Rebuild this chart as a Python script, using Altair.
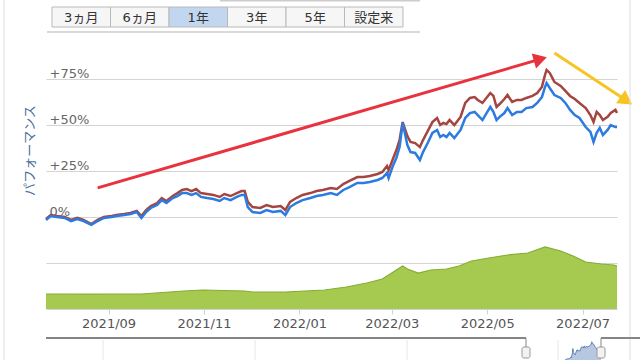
import altair as alt
import pandas as pd

# ---------------- data ----------------
dates = [
    "2021-07-23", "2021-07-26", "2021-07-30", "2021-08-04", "2021-08-08", "2021-08-12",
    "2021-08-16", "2021-08-21", "2021-08-25", "2021-08-29", "2021-09-03", "2021-09-06",
    "2021-09-11", "2021-09-15", "2021-09-19", "2021-09-22", "2021-09-25", "2021-09-28",
    "2021-10-02", "2021-10-05", "2021-10-08", "2021-10-12", "2021-10-15", "2021-10-18",
    "2021-10-21", "2021-10-24", "2021-10-27", "2021-10-30", "2021-11-03", "2021-11-07",
    "2021-11-11", "2021-11-14", "2021-11-18", "2021-11-22", "2021-11-25", "2021-11-27",
    "2021-11-29", "2021-12-02", "2021-12-07", "2021-12-11", "2021-12-15", "2021-12-20",
    "2021-12-23", "2021-12-26", "2021-12-30", "2022-01-03", "2022-01-08", "2022-01-12",
    "2022-01-16", "2022-01-21", "2022-01-25", "2022-01-29", "2022-02-02", "2022-02-07",
    "2022-02-11", "2022-02-15", "2022-02-20", "2022-02-23", "2022-02-26", "2022-02-27",
    "2022-03-02", "2022-03-04", "2022-03-06", "2022-03-08", "2022-03-11", "2022-03-13",
    "2022-03-16", "2022-03-19", "2022-03-21", "2022-03-24", "2022-03-27", "2022-03-30",
    "2022-04-01", "2022-04-03", "2022-04-05", "2022-04-07", "2022-04-10", "2022-04-14",
    "2022-04-17", "2022-04-20", "2022-04-23", "2022-04-25", "2022-04-28", "2022-05-03",
    "2022-05-05", "2022-05-07", "2022-05-09", "2022-05-12", "2022-05-14", "2022-05-17",
    "2022-05-20", "2022-05-23", "2022-05-26", "2022-05-30", "2022-06-02", "2022-06-05",
    "2022-06-07", "2022-06-08", "2022-06-10", "2022-06-13", "2022-06-17", "2022-06-20",
    "2022-06-23", "2022-06-26", "2022-06-29", "2022-07-03", "2022-07-06", "2022-07-08",
    "2022-07-10", "2022-07-12", "2022-07-14", "2022-07-17", "2022-07-19", "2022-07-22",
    "2022-07-23",
]
fund_pct = [
    -1.6, 0.5, 0.0, -0.5, -2.2, -1.1, -2.2, -4.3, -2.2, -0.5, 0.0, 0.5,
    1.1, 1.6, 2.7, -0.5, 2.7, 4.9, 6.5, 9.2, 7.6, 10.3, 11.4, 13.0,
    13.0, 12.0, 13.0, 10.9, 10.3, 9.8, 8.7, 10.3, 9.2, 10.9, 12.0, 12.0,
    5.4, 2.7, 2.2, 3.8, 2.7, 3.3, 1.1, 5.4, 7.6, 9.2, 10.3, 11.4,
    12.0, 13.0, 12.0, 14.7, 16.3, 18.5, 18.5, 19.0, 20.1, 21.2, 23.9, 21.2,
    28.3, 32.1, 38.0, 51.1, 39.1, 35.3, 34.8, 31.0, 35.3, 40.2, 45.7, 47.3,
    43.5, 44.6, 43.5, 45.7, 42.9, 47.3, 53.8, 56.5, 57.1, 55.4, 52.7, 59.8,
    57.1, 52.7, 54.4, 56.5, 59.2, 55.4, 57.1, 57.1, 59.2, 59.8, 62.0, 65.2,
    70.7, 72.8, 70.1, 66.3, 64.7, 62.0, 58.2, 55.4, 53.8, 48.9, 46.2, 40.8,
    45.7, 48.4, 44.6, 47.3, 50.0, 48.9, 48.9,
]
reinvest_pct = [
    -1.1, 1.1, 0.5, 0.0, -1.6, -0.5, -1.6, -3.8, -1.6, 0.0, 0.5, 1.1,
    1.6, 2.2, 3.3, 0.5, 3.8, 6.0, 7.6, 10.3, 8.7, 11.4, 13.0, 14.7,
    15.2, 14.1, 15.2, 13.0, 12.5, 12.0, 10.9, 12.5, 11.4, 13.0, 14.1, 14.1,
    8.2, 5.4, 4.9, 6.5, 5.4, 6.0, 3.8, 8.2, 10.3, 12.0, 13.0, 14.1,
    14.7, 15.8, 15.2, 17.9, 19.6, 21.7, 21.7, 22.3, 23.4, 24.5, 27.7, 25.5,
    32.1, 36.4, 41.8, 51.6, 44.0, 40.8, 40.2, 38.0, 41.8, 46.7, 51.6, 53.8,
    50.0, 51.1, 50.5, 52.7, 50.0, 54.4, 62.0, 64.7, 65.2, 63.6, 62.0, 67.4,
    65.8, 59.8, 61.4, 64.1, 66.3, 62.5, 63.6, 63.6, 64.7, 65.8, 67.4, 70.7,
    77.2, 79.9, 78.3, 73.4, 71.2, 68.5, 65.8, 64.1, 62.0, 59.2, 55.4, 51.6,
    57.1, 55.4, 52.7, 54.4, 56.5, 58.2, 56.5,
]

asset_dates = [
    "2021-07-23", "2021-08-20", "2021-09-22", "2021-10-19", "2021-10-31", "2021-11-27",
    "2021-12-02", "2021-12-23", "2022-01-17", "2022-01-31", "2022-02-13", "2022-02-23",
    "2022-03-02", "2022-03-08", "2022-03-11", "2022-03-18", "2022-03-26", "2022-04-05",
    "2022-04-13", "2022-04-21", "2022-05-02", "2022-05-14", "2022-05-27", "2022-06-07",
    "2022-06-17", "2022-06-25", "2022-07-03", "2022-07-13", "2022-07-21", "2022-07-23",
]
net_assets = [
    150, 148, 150, 180, 190, 180, 170, 170, 190, 220, 260, 300,
    370, 430, 400, 360, 390, 400, 430, 480, 510, 540, 560, 620,
    580, 530, 470, 450, 440, 430,
]

buttons = ["3ヵ月", "6ヵ月", "1年", "3年", "5年", "設定来"]
selected_button = "1年"
y_ticks = [-25, 0, 25, 50, 75]
x_tick_months = [(2021, 9), (2021, 11), (2022, 1), (2022, 3), (2022, 5), (2022, 7)]

red_arrow_dates = ["2021-08-25", "2022-06-04"]
red_arrow_pct = [15.8, 85.8]
yellow_arrow_dates = ["2022-06-13", "2022-07-29"]
yellow_arrow_pct = [89.1, 63.3]

# ---------------- frames ----------------
df_fund = pd.DataFrame({"date": dates, "pct": fund_pct})
df_reinv = pd.DataFrame({"date": dates, "pct": reinvest_pct})
df_assets = pd.DataFrame({"date": asset_dates, "assets": net_assets})
df_red = pd.DataFrame({"date": red_arrow_dates, "pct": red_arrow_pct})
df_yel = pd.DataFrame({"date": yellow_arrow_dates, "pct": yellow_arrow_pct})
df_btn = pd.DataFrame({"label": buttons,
                       "state": ["on" if b == selected_button else "off" for b in buttons]})
one = pd.DataFrame({"k": [0]})

START = alt.DateTime(year=2021, month=7, date=23)
END = alt.DateTime(year=2022, month=7, date=23)

LABEL_FONT = "DejaVu Sans"
JP_FONT = "DejaVu Sans, Noto Sans CJK JP"

xenc = alt.X(
    "date:T",
    scale=alt.Scale(domain=[START, END]),
    axis=alt.Axis(
        values=[alt.DateTime(year=y, month=m, date=1) for y, m in x_tick_months],
        format="%Y/%m", grid=False, domainColor="#c8d4e4", tickColor="#c8d4e4",
        tickSize=5, labelColor="#555555", labelFontSize=13, labelFont=LABEL_FONT,
        labelPadding=3, title=None, labelFlush=False,
    ),
)

yenc = alt.Y(
    "pct:Q",
    scale=alt.Scale(domain=[-50, 98.37], nice=False, zero=False),
    axis=alt.Axis(
        values=y_ticks,
        labelExpr="datum.value > 0 ? '+' + datum.value + '%' : (datum.value == 0 ? '0%' : '')",
        grid=True, gridColor="#d4d4d4", domain=False, ticks=False, tickSize=0,
        labelAlign="left", labelBaseline="alphabetic", labelPadding=-3, labelOffset=-2,
        labelColor="#666666", labelFontSize=13, labelFont=LABEL_FONT,
        title="パフォーマンス", titleFont="Noto Sans CJK JP", titleFontSize=13,
        titleFontWeight="normal", titleColor="#4d6f9c", titleAngle=270,
        titleX=-17, titleY=114, titleAlign="center", titleBaseline="middle",
    ),
)

# ---------------- main pane ----------------
area = alt.Chart(df_assets).mark_area(
    color="#a6c94f", line={"color": "#84ad35", "strokeWidth": 1.2}, opacity=1
).encode(
    x=xenc,
    y=alt.Y("assets:Q", scale=alt.Scale(domain=[0, 2730], nice=False), axis=None),
)

reinv = alt.Chart(df_reinv).mark_line(color="#a5453f", strokeWidth=2.5).encode(x=xenc, y=yenc)
fund = alt.Chart(df_fund).mark_line(color="#2b7be0", strokeWidth=2.5).encode(x=xenc, y=yenc)

red_line = alt.Chart(df_red).mark_line(color="#e8333f", strokeWidth=3).encode(x=xenc, y=yenc)
red_head = alt.Chart(df_red.tail(1)).mark_point(
    shape="triangle-up", filled=True, color="#e8333f", size=240, angle=74, opacity=1
).encode(x=xenc, y=yenc)
yel_line = alt.Chart(df_yel).mark_line(color="#f7c423", strokeWidth=3).encode(x=xenc, y=yenc)
yel_head = alt.Chart(df_yel.tail(1)).mark_point(
    shape="triangle-up", filled=True, color="#f7c423", size=260, angle=124, opacity=1
).encode(x=xenc, y=yenc)

lines = alt.layer(reinv, fund, red_line, red_head, yel_line, yel_head)
core = alt.layer(area, lines).resolve_scale(y="independent")

# ---------------- navigator ----------------
nav = alt.Chart(df_fund).mark_area(
    color="#b7c7e0", line={"color": "#5b7fb5", "strokeWidth": 1}, opacity=1
).encode(
    x=alt.X("date:T", scale=alt.Scale(domain=[START, END], range=[480, 555]), axis=None),
    y=alt.Y("pct:Q", scale=alt.Scale(domain=[15, 72], range=[324, 306], nice=False, zero=False), axis=None),
    y2=alt.value(340),
)


def rule(x, x2, y, y2, color, w=1):
    return alt.Chart(one).mark_rule(color=color, strokeWidth=w).encode(
        x=alt.value(x), x2=alt.value(x2), y=alt.value(y), y2=alt.value(y2))


def handle(xc):
    return alt.Chart(one).mark_rect(fill="#f2f2f2", stroke="#999999", strokeWidth=1, cornerRadius=2).encode(
        x=alt.value(xc - 4), x2=alt.value(xc + 4), y=alt.value(311), y2=alt.value(322))


chrome = [
    rule(-42, -42, -36, 324, "#dedede"),
    rule(584, 584, -36, 324, "#dedede"),
    rule(1, 374, -4, -4, "#d9d9d9", 2),
    rule(174, 374, -36, -36, "#cccccc", 3),
    rule(57, 57, 304, 324, "#e6e6e6"),
    rule(209, 209, 304, 324, "#e6e6e6"),
    rule(361, 361, 304, 324, "#e6e6e6"),
    rule(512, 512, 304, 324, "#e6e6e6"),
    rule(0, 480, 302, 302, "#858585", 2),
    rule(480, 480, 302, 312, "#858585", 1),
    rule(555, 594, 302, 302, "#858585", 2),
    rule(555, 555, 302, 312, "#858585", 1),
    handle(480),
    handle(555),
]

# ---------------- range buttons ----------------
bx = alt.X("label:N", scale=alt.Scale(domain=buttons, range=[6, 357], paddingInner=0, paddingOuter=0),
           axis=None, sort=buttons)
btn_rect = alt.Chart(df_btn).mark_rect(stroke="#b9b9b9", strokeWidth=1).encode(
    x=bx, y=alt.value(-29), y2=alt.value(-9),
    color=alt.Color("state:N", scale=alt.Scale(domain=["off", "on"], range=["#f6f6f6", "#c3d6ef"]), legend=None),
)
btn_text = alt.Chart(df_btn).mark_text(font=JP_FONT, fontSize=13, color="#333333", baseline="middle").encode(
    x=bx, y=alt.value(-18), text="label:N")
btns = alt.layer(btn_rect, btn_text)

chart = alt.layer(core, nav, btns, *chrome).resolve_scale(
    x="independent", y="independent", color="independent"
).properties(
    width=571, height=273,
    autosize=alt.AutoSizeParams(type="none"),
    padding={"left": 46, "top": 36, "right": 23, "bottom": 51},
    background="white",
).configure_view(stroke=None)

chart.save("out.html", embed_options={"renderer": "svg", "actions": False})
